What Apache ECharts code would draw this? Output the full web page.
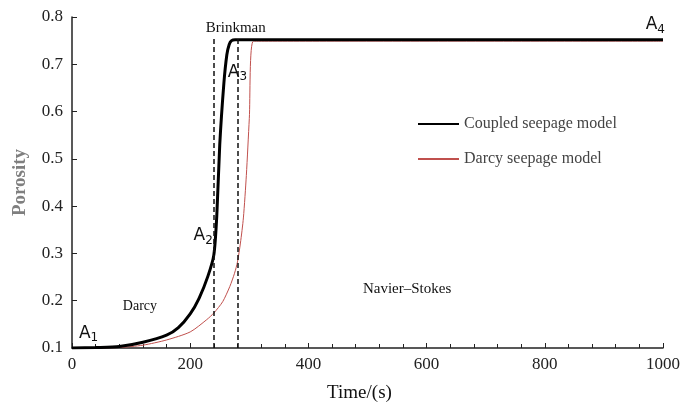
<!DOCTYPE html>
<html><head><meta charset="utf-8">
<script src="https://cdn.jsdelivr.net/npm/echarts@6/dist/echarts.min.js"></script>
<style>html,body{margin:0;padding:0;background:#fff}#c{width:700px;height:407px}</style>
</head><body><div id="c"></div>
<script>
const coupledTime = [0, 40, 80, 120, 160, 180, 200, 215, 230, 240, 245, 250, 257, 262, 266, 270, 276, 285, 1000];
const coupledPorosity = [0.100, 0.101, 0.103, 0.112, 0.127, 0.143, 0.172, 0.205, 0.252, 0.297, 0.380, 0.530, 0.660, 0.720, 0.742, 0.750, 0.752, 0.752, 0.752];
const darcyTime = [0, 40, 80, 120, 160, 200, 228, 240, 255, 267, 275, 280, 285, 290, 295, 300, 307, 1000];
const darcyPorosity = [0.100, 0.100, 0.101, 0.106, 0.117, 0.134, 0.160, 0.174, 0.198, 0.230, 0.258, 0.282, 0.322, 0.375, 0.465, 0.585, 0.749, 0.749];
const regionBounds = [240, 280];
const regionTop = 0.756;
const regionLabels = [
  {name: 'Brinkman', x: 277, y: 0.776, size: 15},
  {name: 'Darcy', x: 115, y: 0.189, size: 14},
  {name: 'Navier–Stokes', x: 567, y: 0.225, size: 15}
];
const pointLabels = [
  {main: 'A', sub: '1', x: 28, y: 0.131},
  {main: 'A', sub: '2', x: 222, y: 0.338},
  {main: 'A', sub: '3', x: 280, y: 0.683},
  {main: 'A', sub: '4', x: 987, y: 0.783}
];

const serif = '"Liberation Serif","DejaVu Serif",serif';
const chart = echarts.init(document.getElementById('c'));
const zip = (a, b) => a.map((v, i) => [v, b[i]]);

chart.setOption({
  animation: false,
  grid: {left: 72, right: 37, top: 17, bottom: 59, outerBoundsMode: 'none', containLabel: false},
  legend: {
    orient: 'vertical', left: 417, top: 116, padding: 0, itemGap: 19, itemWidth: 41, itemHeight: 18,
    itemStyle: {opacity: 0},
    textStyle: {fontFamily: serif, fontSize: 16, color: '#444'},
    data: ['Coupled seepage model', 'Darcy seepage model']
  },
  xAxis: {
    type: 'value', min: 0, max: 1000, interval: 200,
    name: 'Time/(s)', nameLocation: 'middle', nameGap: 36,
    nameTextStyle: {fontFamily: serif, fontSize: 19, color: '#111', padding: [0, 16, 0, 0]},
    axisLine: {lineStyle: {color: '#222', width: 1.5}},
    axisTick: {inside: true, length: 5, lineStyle: {color: '#222'}},
    minorTick: {show: true, splitNumber: 5, length: 4, lineStyle: {color: '#222'}},
    splitLine: {show: false},
    axisLabel: {fontFamily: serif, fontSize: 17, color: '#222', margin: 8, formatter: v => String(v)}
  },
  yAxis: {
    type: 'value', min: 0.1, max: 0.8, interval: 0.1,
    name: 'Porosity', nameLocation: 'middle', nameGap: 42, nameRotate: 90,
    nameTextStyle: {fontFamily: serif, fontSize: 19, color: '#7f7f7f', fontWeight: 'bold'},
    axisLine: {show: true, lineStyle: {color: '#222', width: 1.5}},
    axisTick: {show: true, inside: true, length: 5, lineStyle: {color: '#222'}},
    splitLine: {show: false},
    axisLabel: {fontFamily: serif, fontSize: 17, color: '#222', margin: 9,
      formatter: v => v.toFixed(1)}
  },
  series: [
    {
      name: 'Coupled seepage model', type: 'line', data: zip(coupledTime, coupledPorosity),
      smooth: 0.25, symbol: 'none', lineStyle: {color: '#000', width: 3}, itemStyle: {color: '#000'}, z: 3,
      markLine: {
        silent: true, symbol: 'none', label: {show: false},
        lineStyle: {type: [5, 3], color: '#111', width: 1.5},
        data: regionBounds.map(b => [{coord: [b, 0.1]}, {coord: [b, regionTop]}])
      },
      markPoint: {
        symbol: 'circle', symbolSize: 0, silent: true,
        data: regionLabels.map(r => ({coord: [r.x, r.y], value: r.name,
          label: {show: true, formatter: r.name, fontFamily: serif, fontSize: r.size, color: '#111', position: 'inside'}}))
          .concat(pointLabels.map(p => ({coord: [p.x, p.y], value: p.main,
            label: {show: true, position: 'inside', formatter: '{m|' + p.main + '}{s|' + p.sub + '}',
              rich: {m: {fontFamily: '"DejaVu Sans",sans-serif', fontSize: 17, color: '#111'},
                     s: {fontFamily: '"DejaVu Sans",sans-serif', fontSize: 12, color: '#111', padding: [10, 0, 0, 0]}}}})))
      }
    },
    {
      name: 'Darcy seepage model', type: 'line', data: zip(darcyTime, darcyPorosity),
      smooth: 0.25, symbol: 'none', lineStyle: {color: '#c0504d', width: 1}, itemStyle: {color: '#c0504d'}, z: 2
    }
  ]
});
</script></body></html>
